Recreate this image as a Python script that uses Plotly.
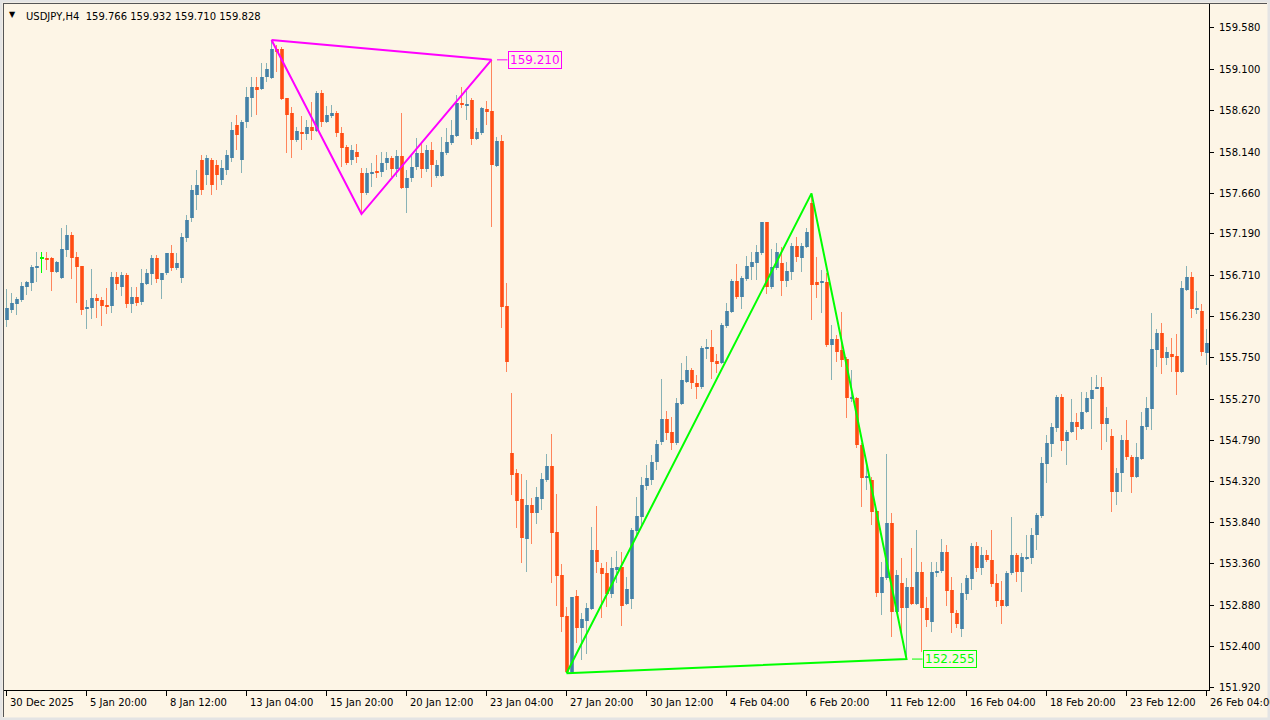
import plotly.graph_objects as go

# ---------------- data (USDJPY H4) ----------------
opens = [
    156.19, 156.31, 156.38, 156.42, 156.57, 156.62, 156.79, 156.90, 156.91, 156.91,
    156.75, 156.68, 157.00, 157.18, 156.92, 156.82, 156.32, 156.33, 156.45, 156.42,
    156.36, 156.35, 156.69, 156.57, 156.71, 156.38, 156.46, 156.40, 156.61, 156.72,
    156.91, 156.65, 156.74, 156.97, 156.79, 156.68, 157.14, 157.37, 157.64, 158.05,
    157.87, 158.05, 157.99, 157.82, 157.93, 158.07, 158.45, 158.05, 158.49, 158.77,
    158.89, 158.87, 159.01, 159.00, 159.34, 159.34, 158.77, 158.59, 158.28, 158.37,
    158.35, 158.43, 158.38, 158.83, 158.49, 158.56, 158.59, 158.36, 158.20, 158.05,
    158.14, 157.90, 157.66, 157.89, 157.92, 157.91, 158.01, 158.07, 157.94, 158.09,
    157.72, 157.84, 157.97, 158.13, 157.94, 158.16, 157.86, 157.86, 158.13, 158.24,
    158.33, 158.71, 158.67, 158.74, 158.29, 158.36, 158.64, 158.62, 157.98, 158.27,
    156.35, 154.65, 154.41, 154.11, 153.65, 154.04, 153.95, 154.11, 154.33, 154.50,
    153.73, 153.23, 152.76, 152.11, 152.99, 152.62, 152.70, 152.84, 153.52, 153.31,
    153.25, 153.01, 153.30, 153.32, 152.89, 152.95, 153.74, 153.90, 154.26, 154.33,
    154.54, 154.77, 155.04, 154.89, 154.76, 155.22, 155.47, 155.61, 155.46, 155.41,
    155.85, 155.88, 155.71, 155.69, 156.12, 156.28, 156.64, 156.46, 156.67, 156.81,
    156.85, 156.97, 157.33, 156.57, 156.79, 156.85, 156.64, 156.75, 157.05, 156.91,
    157.04, 157.55, 156.63, 156.62, 156.63, 155.90, 155.97, 155.84, 155.74, 155.27,
    155.29, 154.74, 154.36, 154.33, 153.97, 153.02, 153.20, 153.83, 152.80, 153.14,
    152.85, 153.09, 152.89, 153.27, 152.85, 152.69, 153.25, 153.28, 153.50, 153.06,
    152.79, 152.60, 153.01, 153.18, 153.57, 153.31, 153.46, 153.41, 153.14, 152.94,
    152.87, 153.25, 153.46, 153.27, 153.42, 153.43, 153.70, 153.92, 154.52, 154.75,
    154.94, 155.30, 154.79, 154.89, 155.01, 154.93, 155.12, 155.27, 155.39, 155.41,
    154.98, 154.84, 154.19, 154.41, 154.80, 154.60, 154.37, 154.58, 154.95, 155.16,
    155.84, 156.04, 155.75, 155.80, 155.77, 155.59, 156.54, 156.69, 156.31, 156.29, 155.81,
]
highs = [
    156.55, 156.50, 156.46, 156.63, 156.64, 156.83, 156.98, 156.98, 156.98, 156.92,
    156.87, 157.26, 157.29, 157.21, 156.98, 156.82, 156.42, 156.78, 156.49, 156.46,
    156.56, 156.75, 156.75, 156.75, 156.74, 156.57, 156.57, 156.78, 156.78, 156.94,
    156.94, 156.74, 156.97, 157.06, 156.97, 157.20, 157.41, 157.76, 157.93, 158.11,
    158.11, 158.07, 158.05, 158.05, 158.16, 158.49, 158.57, 158.51, 158.89, 159.01,
    159.01, 159.17, 159.17, 159.44, 159.38, 159.36, 158.77, 158.66, 158.43, 158.56,
    158.51, 158.72, 158.85, 158.86, 158.67, 158.69, 158.62, 158.43, 158.22, 158.22,
    158.23, 157.95, 157.95, 158.01, 158.11, 158.14, 158.14, 158.09, 158.16, 158.59,
    157.93, 158.11, 158.30, 158.24, 158.22, 158.26, 158.05, 158.31, 158.42, 158.51,
    158.80, 158.89, 158.85, 158.77, 158.42, 158.66, 158.73, 159.21, 158.31, 158.34,
    156.62, 155.34, 154.46, 154.40, 154.33, 154.12, 154.25, 154.41, 154.64, 154.87,
    154.17, 153.36, 152.86, 152.98, 153.06, 152.79, 152.91, 153.79, 154.03, 153.37,
    153.38, 153.44, 153.51, 153.50, 153.21, 153.78, 154.14, 154.37, 154.51, 154.62,
    154.80, 155.51, 155.13, 155.06, 155.29, 155.69, 155.77, 155.63, 155.55, 155.89,
    155.97, 156.07, 155.80, 156.16, 156.39, 156.67, 156.84, 156.70, 156.93, 156.98,
    157.06, 157.33, 157.33, 157.01, 157.08, 157.04, 156.86, 157.08, 157.15, 157.08,
    157.26, 157.66, 156.92, 156.77, 156.74, 156.13, 156.02, 156.28, 155.76, 155.61,
    155.30, 154.76, 154.53, 154.37, 153.99, 153.38, 154.64, 153.95, 153.29, 153.43,
    153.20, 153.54, 153.75, 153.38, 152.98, 153.38, 153.38, 153.65, 153.58, 153.21,
    152.82, 153.14, 153.23, 153.60, 153.61, 153.56, 153.52, 153.75, 153.24, 153.16,
    153.28, 153.90, 153.49, 153.49, 153.70, 153.78, 153.95, 154.60, 154.86, 155.00,
    155.32, 155.33, 154.91, 155.27, 155.11, 155.36, 155.36, 155.53, 155.55, 155.53,
    155.18, 154.93, 154.47, 154.86, 155.03, 154.62, 154.76, 155.12, 155.30, 156.27,
    156.09, 156.16, 155.88, 155.98, 156.03, 156.64, 156.82, 156.75, 156.53, 156.38, 156.09,
]
lows = [
    156.11, 156.27, 156.25, 156.40, 156.48, 156.53, 156.63, 156.74, 156.77, 156.53,
    156.74, 156.67, 156.92, 156.67, 156.39, 156.25, 156.09, 156.20, 156.21, 156.12,
    156.26, 156.27, 156.54, 156.47, 156.33, 156.27, 156.35, 156.36, 156.60, 156.60,
    156.62, 156.43, 156.71, 156.76, 156.77, 156.62, 157.10, 157.33, 157.47, 157.64,
    157.76, 157.64, 157.70, 157.76, 157.87, 158.02, 158.16, 157.90, 158.42, 158.55,
    158.57, 158.86, 158.95, 158.99, 159.07, 158.74, 158.13, 158.07, 158.26, 158.16,
    158.28, 158.28, 158.37, 158.43, 158.48, 158.53, 158.31, 157.97, 157.99, 157.99,
    158.01, 157.42, 157.64, 157.73, 157.84, 157.85, 157.93, 157.85, 157.85, 157.71,
    157.43, 157.79, 157.93, 157.84, 157.91, 157.73, 157.84, 157.85, 158.11, 158.22,
    158.31, 158.65, 158.51, 158.22, 158.28, 158.34, 158.45, 157.27, 157.97, 156.10,
    155.59, 154.16, 153.78, 153.37, 153.27, 153.59, 153.82, 153.99, 154.31, 153.14,
    152.87, 152.57, 152.09, 152.08, 152.44, 152.24, 152.31, 152.82, 153.25, 152.73,
    152.86, 152.96, 153.14, 152.64, 152.88, 152.84, 153.67, 153.79, 154.22, 154.28,
    154.45, 154.74, 154.80, 154.68, 154.74, 155.20, 155.46, 155.39, 155.27, 155.39,
    155.74, 155.51, 155.58, 155.68, 156.10, 156.27, 156.43, 156.32, 156.64, 156.65,
    156.65, 156.94, 156.49, 156.55, 156.77, 156.47, 156.57, 156.65, 156.86, 156.75,
    157.03, 156.19, 156.45, 156.27, 155.88, 155.49, 155.70, 155.65, 155.05, 155.24,
    154.70, 154.02, 154.22, 153.81, 152.98, 152.77, 153.17, 152.51, 152.79, 152.56,
    152.26, 152.88, 152.88, 152.34, 152.63, 152.57, 153.21, 153.25, 152.87, 152.56,
    152.62, 152.51, 152.94, 153.06, 153.27, 153.23, 153.38, 153.09, 152.86, 152.66,
    152.86, 153.23, 153.15, 153.03, 153.41, 153.36, 153.52, 153.89, 154.30, 154.60,
    154.89, 154.67, 154.51, 154.88, 154.80, 154.91, 155.11, 154.93, 155.39, 154.68,
    154.77, 153.96, 154.04, 154.19, 154.57, 154.18, 154.36, 154.57, 154.91, 154.91,
    155.65, 155.56, 155.67, 155.59, 155.32, 155.58, 156.53, 156.21, 156.26, 155.77, 155.67,
]
closes = [
    156.33, 156.39, 156.43, 156.59, 156.63, 156.81, 156.82, 156.90, 156.89, 156.75,
    156.86, 157.01, 157.18, 156.91, 156.81, 156.31, 156.34, 156.45, 156.41, 156.35,
    156.35, 156.69, 156.61, 156.71, 156.38, 156.46, 156.39, 156.62, 156.74, 156.91,
    156.67, 156.74, 156.97, 156.79, 156.85, 157.15, 157.35, 157.70, 157.76, 157.70,
    158.07, 157.76, 157.87, 157.95, 158.11, 158.40, 158.34, 158.49, 158.78, 158.89,
    158.87, 159.01, 159.10, 159.34, 159.30, 158.76, 158.57, 158.28, 158.38, 158.35,
    158.43, 158.38, 158.83, 158.49, 158.57, 158.59, 158.36, 158.19, 158.01, 158.16,
    158.08, 157.66, 157.90, 157.91, 157.90, 158.01, 158.07, 157.94, 158.09, 157.72,
    157.84, 157.97, 158.13, 157.94, 158.16, 157.99, 157.99, 158.14, 158.26, 158.34,
    158.71, 158.69, 158.70, 158.29, 158.37, 158.65, 158.60, 157.99, 158.27, 156.34,
    155.70, 154.39, 154.09, 153.66, 154.04, 153.95, 154.14, 154.35, 154.50, 153.72,
    153.22, 152.74, 152.11, 152.98, 152.62, 152.72, 152.85, 153.52, 153.38, 153.24,
    153.01, 153.31, 153.32, 152.87, 153.07, 153.75, 153.92, 154.28, 154.36, 154.54,
    154.75, 155.04, 154.88, 154.76, 155.23, 155.49, 155.61, 155.46, 155.41, 155.87,
    155.88, 155.70, 155.69, 156.13, 156.29, 156.64, 156.46, 156.68, 156.82, 156.86,
    156.98, 157.33, 156.57, 156.81, 156.98, 156.64, 156.76, 157.05, 156.92, 157.05,
    157.21, 156.60, 156.60, 156.63, 155.90, 155.97, 155.82, 155.73, 155.29, 155.30,
    154.74, 154.36, 154.37, 153.96, 153.02, 153.21, 153.83, 152.80, 153.23, 152.85,
    153.09, 152.89, 153.27, 152.85, 152.71, 153.27, 153.28, 153.50, 153.05, 152.79,
    152.66, 153.02, 153.20, 153.57, 153.31, 153.46, 153.41, 153.13, 152.93, 152.87,
    153.25, 153.46, 153.27, 153.44, 153.44, 153.70, 153.93, 154.53, 154.76, 154.95,
    155.30, 154.79, 154.89, 155.01, 154.95, 155.12, 155.29, 155.38, 155.41, 154.98,
    155.05, 154.19, 154.41, 154.80, 154.60, 154.37, 154.60, 154.96, 155.17, 155.85,
    156.04, 155.75, 155.82, 155.76, 155.59, 156.56, 156.69, 156.32, 156.33, 155.82, 155.92,
]

x_tick_bars = [0, 16, 32, 48, 64, 80, 96, 112, 128, 144, 160, 176, 192, 208, 224, 240]
x_tick_labels = ["30 Dec 2025", "5 Jan 20:00", "8 Jan 12:00", "13 Jan 04:00",
                 "15 Jan 20:00", "20 Jan 12:00", "23 Jan 04:00", "27 Jan 20:00",
                 "30 Jan 12:00", "4 Feb 04:00", "6 Feb 20:00", "11 Feb 12:00",
                 "16 Feb 04:00", "18 Feb 20:00", "23 Feb 12:00", "26 Feb 04:00"]
y_tick_vals = [159.580, 159.100, 158.620, 158.140, 157.660, 157.190, 156.710, 156.230,
               155.750, 155.270, 154.790, 154.320, 153.840, 153.360, 152.880, 152.400,
               151.920]

magenta_bars = [53, 71, 97]
magenta_prices = [159.44, 157.42, 159.210]
green_bars = [112, 161, 180]
green_prices = [152.09, 157.66, 152.255]

symbol_text = "USDJPY,H4"
ohlc_text = "159.766 159.932 159.710 159.828"

# ---------------- styling ----------------
BG = "#FDF5E6"
BULL_WICK = "#88B2B6"
BULL_EDGE = "#6499B2"
BULL_CORE = "#447FA8"
BEAR_WICK = "#FF855C"
BEAR_EDGE = "#FF6A3A"
BEAR_CORE = "#FF4C12"
DOJI = "#00FF00"
MAGENTA = "#FF00FF"
GREEN = "#00FF00"
FONT = "DejaVu Sans"
MIN_H = 0.0116

n = len(opens)
idx = list(range(n))
kind = ["up" if c > o else ("dn" if c < o else "dj") for o, c in zip(opens, closes)]

fig = go.Figure()


def add_bars(sel, base, height, width, color):
    fig.add_trace(go.Bar(
        x=[idx[i] for i in sel], base=[base[i] for i in sel], y=[height[i] for i in sel],
        width=width, marker=dict(color=color, line=dict(width=0)),
        hoverinfo="skip", showlegend=False))


wick_base = lows
wick_h = [max(h - l, MIN_H) for h, l in zip(highs, lows)]
body_base = [min(o, c) for o, c in zip(opens, closes)]
body_h = [max(abs(c - o), MIN_H) for o, c in zip(opens, closes)]

styles = [("up", BULL_WICK, BULL_EDGE, BULL_CORE),
          ("dn", BEAR_WICK, BEAR_EDGE, BEAR_CORE),
          ("dj", DOJI, DOJI, DOJI)]
for k, wc, ec, cc in styles:
    sel = [i for i in idx if kind[i] == k]
    if sel:
        add_bars(sel, wick_base, wick_h, 0.2, wc)
for k, wc, ec, cc in styles:
    sel = [i for i in idx if kind[i] == k]
    if sel:
        add_bars(sel, body_base, body_h, 0.8, ec)
        add_bars(sel, body_base, body_h, 0.4, cc)

# pattern triangles
for bars, prices, col in [(magenta_bars, magenta_prices, MAGENTA), (green_bars, green_prices, GREEN)]:
    fig.add_trace(go.Scatter(
        x=bars + [bars[0]], y=prices + [prices[0]], mode="lines",
        line=dict(color=col, width=2), hoverinfo="skip", showlegend=False))

W, H = 1270, 720
L, R, T, B = 4, 61, 4, 30
PW, PH = W - L - R, H - T - B


def px(xp):
    return (xp - L) / PW


def py(yp):
    return (H - B - yp) / PH


annotations = []
shapes = []

# price tags at the right point of each pattern
for bars, prices, col in [(magenta_bars, magenta_prices, MAGENTA), (green_bars, green_prices, GREEN)]:
    b, p = bars[-1], prices[-1]
    shapes.append(dict(type="line", xref="x", yref="y", x0=b + 1.1, x1=b + 3.2, y0=p, y1=p,
                       line=dict(color=col, width=1)))
    annotations.append(dict(x=b + 3.3, y=p, xref="x", yref="y", xanchor="left", yanchor="middle",
                            text=f"{p:.3f}", showarrow=False,
                            font=dict(family=FONT, size=12, color=col),
                            bordercolor=col, borderwidth=1, borderpad=1, bgcolor=BG))

# x labels (left aligned at the tick, MT4 style)
for b, t in zip(x_tick_bars, x_tick_labels):
    annotations.append(dict(x=b, y=0, xref="x", yref="paper", xanchor="left", yanchor="top",
                            xshift=1, yshift=-5, text=t, showarrow=False,
                            font=dict(family=FONT, size=10, color="#000000")))

# header
annotations.append(dict(x=px(12), y=py(15), xref="paper", yref="paper", xanchor="center",
                        yanchor="middle", text="▼", showarrow=False,
                        font=dict(family=FONT, size=8, color="#000000")))
annotations.append(dict(x=px(24), y=py(16), xref="paper", yref="paper", xanchor="left",
                        yanchor="middle", text=symbol_text + "&nbsp;&nbsp;" + ohlc_text,
                        showarrow=False, font=dict(family=FONT, size=10, color="#000000")))

# window frame: light outer band, dark sunken left/top line
shapes.append(dict(type="rect", xref="paper", yref="paper", x0=px(1), x1=px(W - 1),
                   y0=py(H - 1), y1=py(1), line=dict(color="#E4E4E4", width=3), layer="above"))
shapes.append(dict(type="line", xref="paper", yref="paper", x0=px(3.5), x1=px(3.5),
                   y0=py(3), y1=py(H - 3), line=dict(color="#555555", width=1), layer="above"))
shapes.append(dict(type="line", xref="paper", yref="paper", x0=px(3), x1=px(W - 3),
                   y0=py(3.5), y1=py(3.5), line=dict(color="#555555", width=1), layer="above"))

fig.update_layout(
    width=W, height=H, margin=dict(l=L, r=R, t=T, b=B, autoexpand=False),
    paper_bgcolor=BG, plot_bgcolor=BG, showlegend=False,
    barmode="overlay", bargap=0, bargroupgap=0,
    font=dict(family=FONT, size=10, color="#000000"),
    annotations=annotations, shapes=shapes,
    xaxis=dict(range=[-0.5, n - 0.5], showgrid=False, zeroline=False,
               tickmode="array", tickvals=x_tick_bars, ticktext=[""] * len(x_tick_bars),
               ticks="outside", ticklen=5, tickcolor="#000000", tickwidth=1,
               showline=True, linecolor="#000000", linewidth=1, fixedrange=True),
    yaxis=dict(range=[151.896, 159.858], side="right", showgrid=False, zeroline=False,
               tickmode="array", tickvals=y_tick_vals, ticktext=[f"{v:.3f}" for v in y_tick_vals],
               ticks="outside", ticklen=4, tickcolor="#000000", tickwidth=1,
               ticklabelstandoff=3,
               showline=True, linecolor="#000000", linewidth=1, fixedrange=True,
               tickfont=dict(family=FONT, size=10, color="#000000")),
)

fig.write_html(
    "out.html",
    config={"displayModeBar": False},
    post_script="document.body.style.margin='0';document.body.style.padding='0';"
                "document.body.style.overflow='hidden';",
)
